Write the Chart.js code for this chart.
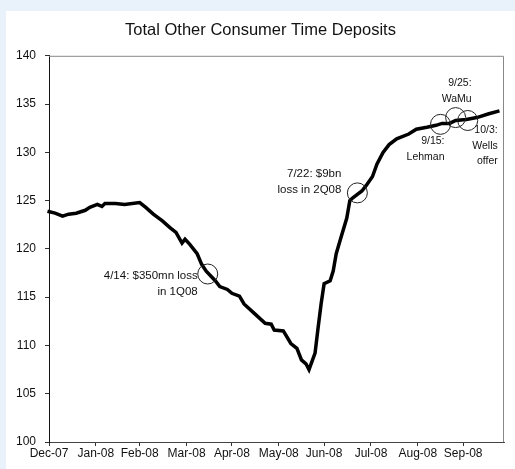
<!DOCTYPE html>
<html>
<head>
<meta charset="utf-8">
<script src="https://cdn.jsdelivr.net/npm/chart.js@4/dist/chart.umd.min.js"></script>
<style>
  html, body { margin: 0; padding: 0; }
  body { width: 515px; height: 469px; background: #e9f2fb; position: relative; overflow: hidden; }
  #painel { position: absolute; left: 6px; top: 11px; width: 509px; height: 458px; background: #fff; }
  #grafico { position: absolute; left: 0; top: 0; }
</style>
</head>
<body>
<div id="painel"></div>
<canvas id="grafico" width="515" height="469"></canvas>
<script>
// days counted from 31 Dec 2007 (x axis), index level (y axis)
const days = [-5, -1, 4, 9, 13, 18, 24, 27, 32, 35, 37, 44, 50, 60, 64, 69, 75, 80, 84, 88,
  90, 93, 98, 101, 104, 110, 113, 118, 121, 126, 129, 136, 143, 147, 149, 155, 160, 164, 167, 170,
  172, 176, 178, 180, 182, 186, 188, 190, 193, 197, 199, 201, 207, 210, 214, 217, 221, 225, 230, 238,
  243, 250, 256, 260, 265, 269, 276, 283, 291, 298];
const deposits = [123.6, 123.9, 123.7, 123.4, 123.6, 123.7, 124.0, 124.3, 124.6, 124.4, 124.7, 124.7, 124.6, 124.8, 124.3, 123.6, 122.9, 122.2, 121.7, 120.6,
  121.0, 120.5, 119.5, 118.4, 117.7, 116.7, 116.1, 115.8, 115.4, 115.1, 114.3, 113.3, 112.3, 112.2, 111.6, 111.5, 110.2, 109.7, 108.5, 108.1,
  107.5, 109.2, 111.8, 114.3, 116.4, 116.7, 117.7, 119.5, 121.1, 123.2, 125.0, 125.3, 126.0, 126.6, 127.5, 128.8, 130.0, 130.8, 131.4, 131.9,
  132.4, 132.6, 132.8, 133.0, 133.0, 133.3, 133.4, 133.6, 134.0, 134.3];

// month-end ticks
const monthEndDays = [0, 31, 60, 91, 121, 152, 182, 213, 244, 274];
const monthLabels = ["Dec-07", "Jan-08", "Feb-08", "Mar-08", "Apr-08", "May-08", "Jun-08", "Jul-08", "Aug-08", "Sep-08"];

// events circled on the line
const eventDays = [105, 204, 259, 269, 277];
const eventValues = [117.4, 125.8, 132.9, 133.6, 133.3];
const eventLabels = [
  ["4/14: $350mn loss", "in 1Q08"],
  ["7/22: $9bn", "loss in 2Q08"],
  ["9/15:", "Lehman"],
  ["9/25:", "WaMu"],
  ["10/3:", "Wells", "offer"]
];

// where each label sits relative to its circle (right-aligned text)
const estiloRotulos = [
  { dx: -10, dy: 2, size: 11.5 },
  { dx: -16, dy: -19, size: 11.5 },
  { dx: 4, dy: 17, size: 10.5 },
  { dx: 16, dy: -34, size: 10.5 },
  { dx: 30, dy: 10, size: 10.5 }
];

const fonte = "'Liberation Sans', Arial, sans-serif";

const molduraPlugin = {
  id: 'moldura',
  beforeDatasetsDraw(chart) {
    const { ctx, chartArea: a } = chart;
    ctx.save();
    ctx.strokeStyle = '#888';
    ctx.lineWidth = 1;
    ctx.beginPath();
    ctx.moveTo(a.left, a.top + 0.5);
    ctx.lineTo(a.right - 0.5, a.top + 0.5);
    ctx.lineTo(a.right - 0.5, a.bottom);
    ctx.stroke();
    ctx.restore();
  }
};

const rotulosPlugin = {
  id: 'rotulos',
  afterDatasetsDraw(chart) {
    const { ctx, scales } = chart;
    ctx.save();
    ctx.fillStyle = '#111';
    ctx.textAlign = 'right';
    ctx.textBaseline = 'middle';
    eventLabels.forEach((linhas, i) => {
      const px = scales.x.getPixelForValue(eventDays[i]);
      const py = scales.y.getPixelForValue(eventValues[i]);
      const est = estiloRotulos[i];
      ctx.font = est.size + 'px ' + fonte;
      linhas.forEach((txt, j) => {
        ctx.fillText(txt, px + est.dx, py + est.dy + j * 15.5);
      });
    });
    ctx.restore();
  }
};

new Chart(document.getElementById('grafico').getContext('2d'), {
  type: 'line',
  data: {
    datasets: [
      {
        data: eventDays.map((d, i) => ({ x: d, y: eventValues[i] })),
        showLine: false,
        pointRadius: 10,
        pointStyle: 'circle',
        pointBorderColor: '#222',
        pointBorderWidth: 1,
        pointBackgroundColor: 'rgba(0,0,0,0)',
        order: 0
      },
      {
        data: days.map((d, i) => ({ x: d, y: deposits[i] })),
        borderColor: '#000',
        borderWidth: 3.5,
        pointRadius: 0,
        tension: 0,
        clip: false,
        order: 1
      }
    ]
  },
  options: {
    responsive: false,
    animation: false,
    devicePixelRatio: 1,
    layout: { padding: { left: 16, right: 10, top: 0, bottom: 7 } },
    plugins: {
      legend: { display: false },
      tooltip: { enabled: false },
      title: {
        display: true,
        text: 'Total Other Consumer Time Deposits',
        color: '#111',
        font: { family: fonte, size: 16.5, weight: 'normal' },
        padding: { top: 21, bottom: 15 }
      }
    },
    scales: {
      x: {
        type: 'linear',
        min: 0,
        max: 301,
        afterBuildTicks: escala => {
          escala.ticks = monthEndDays.map(v => ({ value: v }));
        },
        afterFit: escala => { escala.height = 20; },
        ticks: {
          autoSkip: false,
          maxRotation: 0,
          padding: 0,
          color: '#111',
          font: { family: fonte, size: 12 },
          callback: (valor, indice) => monthLabels[indice]
        },
        grid: { drawOnChartArea: false, drawTicks: true, tickLength: 4, color: '#333' },
        border: { color: '#444', width: 1 }
      },
      y: {
        min: 100,
        max: 140,
        afterFit: escala => { escala.width = 33; },
        ticks: {
          stepSize: 5,
          padding: 9,
          color: '#111',
          font: { family: fonte, size: 12 }
        },
        grid: { drawOnChartArea: false, drawTicks: true, tickLength: 4, color: '#333' },
        border: { color: '#111', width: 1 }
      }
    }
  },
  plugins: [molduraPlugin, rotulosPlugin]
});
</script>
</body>
</html>
